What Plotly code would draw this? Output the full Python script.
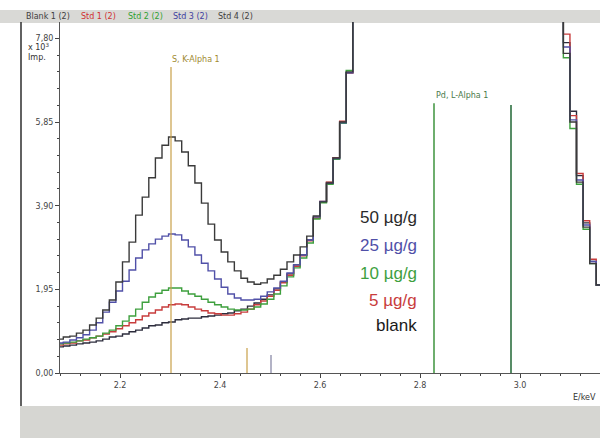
import plotly.graph_objects as go

# Channel left-edge energies (keV) for the visible spectrum parts
energy_left = [2.0734, 2.0866, 2.0997, 2.1129, 2.1260, 2.1392, 2.1524, 2.1655, 2.1787, 2.1918,
               2.2050, 2.2182, 2.2313, 2.2445, 2.2576, 2.2708, 2.2840, 2.2971, 2.3103, 2.3234,
               2.3366, 2.3498, 2.3629, 2.3761, 2.3892, 2.4024, 2.4156, 2.4287, 2.4419, 2.4550,
               2.4682, 2.4814, 2.4945, 2.5077, 2.5208, 2.5340, 2.5472, 2.5603, 2.5735, 2.5866,
               2.5998, 2.6130, 2.6261, 2.6393, 2.6524, 2.6656]
energy_right = [3.0867, 3.0999, 3.1130, 3.1262, 3.1394, 3.1525, 3.1657]

# Counts (x10^3 Imp.) per channel, left part (last value is off-scale)
blank_left = [0.61, 0.63, 0.65, 0.68, 0.70, 0.72, 0.75, 0.79, 0.84, 0.86,
              0.91, 0.96, 1.00, 1.05, 1.10, 1.12, 1.17, 1.19, 1.24, 1.26,
              1.28, 1.28, 1.31, 1.33, 1.35, 1.38, 1.40, 1.45, 1.49, 1.56,
              1.63, 1.72, 1.82, 1.96, 2.12, 2.31, 2.52, 2.75, 3.10, 3.61,
              3.99, 4.44, 5.02, 5.86, 7.00, 12.0]
std5_left = [0.65, 0.68, 0.70, 0.75, 0.77, 0.82, 0.86, 0.91, 0.96, 1.03,
             1.10, 1.17, 1.24, 1.33, 1.40, 1.47, 1.54, 1.59, 1.61, 1.59,
             1.54, 1.49, 1.45, 1.40, 1.38, 1.35, 1.35, 1.38, 1.42, 1.49,
             1.59, 1.68, 1.79, 1.93, 2.10, 2.28, 2.49, 2.73, 3.08, 3.61,
             4.00, 4.45, 5.02, 5.87, 7.00, 12.0]
std10_left = [0.68, 0.70, 0.72, 0.75, 0.79, 0.82, 0.86, 0.93, 1.00, 1.10,
              1.21, 1.33, 1.49, 1.65, 1.77, 1.86, 1.93, 1.98, 1.98, 1.91,
              1.84, 1.79, 1.72, 1.65, 1.59, 1.54, 1.49, 1.47, 1.47, 1.49,
              1.54, 1.61, 1.72, 1.84, 2.03, 2.24, 2.45, 2.68, 3.03, 3.59,
              3.97, 4.40, 4.98, 5.82, 7.05, 12.0]
std25_left = [0.70, 0.72, 0.77, 0.82, 0.89, 1.00, 1.17, 1.42, 1.65, 1.91,
              2.14, 2.40, 2.68, 2.87, 3.01, 3.12, 3.19, 3.24, 3.22, 3.10,
              2.94, 2.75, 2.56, 2.38, 2.19, 2.00, 1.84, 1.75, 1.70, 1.70,
              1.72, 1.79, 1.89, 1.98, 2.14, 2.33, 2.52, 2.75, 3.10, 3.64,
              4.00, 4.42, 5.00, 5.83, 7.00, 12.0]
std50_left = [0.79, 0.84, 0.86, 0.93, 1.00, 1.12, 1.28, 1.47, 1.70, 2.12,
              2.59, 3.05, 3.68, 4.10, 4.55, 5.01, 5.31, 5.50, 5.41, 5.15,
              4.83, 4.43, 3.96, 3.47, 3.10, 2.82, 2.59, 2.38, 2.21, 2.12,
              2.07, 2.10, 2.19, 2.28, 2.42, 2.59, 2.75, 2.94, 3.19, 3.66,
              3.99, 4.43, 5.01, 5.85, 7.02, 12.0]

# Right part (curves come in from above the top of the plot)
blank_right = [7.70, 6.10, 4.60, 3.50, 2.60, 2.05, 2.05]
std5_right = [7.90, 6.00, 4.65, 3.55, 2.65, 2.05, 2.05]
std10_right = [7.35, 5.70, 4.40, 3.35, 2.55, 2.05, 2.05]
std25_right = [7.60, 5.90, 4.50, 3.45, 2.60, 2.05, 2.05]
std50_right = [7.45, 5.85, 4.45, 3.40, 2.55, 2.05, 2.05]

series_names = ["blank", "5 µg/g", "10 µg/g", "25 µg/g", "50 µg/g"]
series_colors = ["#2c2c3c", "#c83c3c", "#3ea03e", "#5050a8", "#3a3a3a"]
label_colors = ["#1a1a1a", "#c83c3c", "#3ea03e", "#5050a8", "#2a2a2a"]
series_left = [blank_left, std5_left, std10_left, std25_left, std50_left]
series_right = [blank_right, std5_right, std10_right, std25_right, std50_right]

# Element marker lines (keV, height x10^3)
s_lines_e = [2.302, 2.454, 2.502]
s_lines_h = [7.13, 0.58, 0.42]
pd_lines_e = [2.828, 2.982]
pd_lines_h = [6.29, 6.25]

header_texts = ["Blank 1 (2)", "Std 1 (2)", "Std 2 (2)", "Std 3 (2)", "Std 4 (2)"]
header_colors = ["#404040", "#d03030", "#30a030", "#4040a0", "#404040"]

x_ticks = [2.2, 2.4, 2.6, 2.8, 3.0]
x_ticktext = ["2.2", "2.4", "2.6", "2.8", "3.0"]
y_ticks = [0.0, 1.95, 3.90, 5.85, 7.80]
y_ticktext = ["0,00", "1,95", "3,90", "5,85", "7,80"]

fig = go.Figure()

for name, col, yl, yr in zip(series_names, series_colors, series_left, series_right):
    fig.add_trace(go.Scatter(x=energy_left + energy_right, y=yl + yr, mode="lines",
                             line=dict(shape="hv", color=col, width=1.4),
                             name=name, showlegend=False, hoverinfo="skip"))

for e, h, c in zip(s_lines_e, s_lines_h, ["#c8a048", "#c8a048", "#8080a0"]):
    fig.add_trace(go.Scatter(x=[e, e], y=[0, h], mode="lines", line=dict(color=c, width=1.2),
                             showlegend=False, hoverinfo="skip"))
for e, h, c in zip(pd_lines_e, pd_lines_h, ["#4a9a4a", "#2e7040"]):
    fig.add_trace(go.Scatter(x=[e, e], y=[0, h], mode="lines", line=dict(color=c, width=1.6),
                             showlegend=False, hoverinfo="skip"))

W, H = 600, 438
L, T, B = 60, 22, 65
PW, PH = W - L, H - T - B


def px(x):
    return (x - L) / PW


def py(y):
    return (H - B - y) / PH


annotations = []
annotations.append(dict(x=s_lines_e[0], y=s_lines_h[0], xref="x", yref="y", text="S, K-Alpha 1",
                        showarrow=False, xanchor="left", yanchor="bottom", xshift=-1, yshift=1,
                        font=dict(size=8, color="#a08a30", family="DejaVu Sans")))
annotations.append(dict(x=pd_lines_e[0], y=pd_lines_h[0], xref="x", yref="y", text="Pd, L-Alpha 1",
                        showarrow=False, xanchor="left", yanchor="bottom", xshift=0, yshift=1,
                        font=dict(size=8, color="#4a7a4a", family="DejaVu Sans")))
label_y = [325, 300, 273, 245, 217]
for name, col, yy in zip(series_names, label_colors, label_y):
    annotations.append(dict(x=px(419), y=py(yy), xref="paper", yref="paper", text=name, showarrow=False,
                            xanchor="right", yanchor="middle",
                            font=dict(size=17, color=col, family="Liberation Sans")))
hx = [24, 79, 126, 171, 216]
for t, c, x0 in zip(header_texts, header_colors, hx):
    annotations.append(dict(x=px(x0), y=py(16.5), xref="paper", yref="paper", text=t, showarrow=False,
                            xanchor="left", yanchor="middle",
                            font=dict(size=8, color=c, family="DejaVu Sans")))
annotations.append(dict(x=px(26), y=py(47), xref="paper", yref="paper", text="x 10<sup>3</sup>",
                        showarrow=False, xanchor="left", yanchor="middle",
                        font=dict(size=8, color="#333", family="DejaVu Sans")))
annotations.append(dict(x=px(26), y=py(58), xref="paper", yref="paper", text="Imp.",
                        showarrow=False, xanchor="left", yanchor="middle",
                        font=dict(size=8, color="#333", family="DejaVu Sans")))
annotations.append(dict(x=px(598), y=py(397), xref="paper", yref="paper", text="E/keV",
                        showarrow=False, xanchor="right", yanchor="middle",
                        font=dict(size=8, color="#333", family="DejaVu Sans")))

shapes = [
    dict(type="rect", xref="paper", yref="paper", x0=px(0), x1=px(600), y0=py(23), y1=py(10),
         fillcolor="#d9d9d6", line=dict(width=0), layer="below"),
    dict(type="rect", xref="paper", yref="paper", x0=px(20), x1=px(600), y0=py(438), y1=py(406),
         fillcolor="#d6d6d2", line=dict(width=0), layer="below"),
    dict(type="line", xref="paper", yref="paper", x0=px(21), x1=px(21), y0=py(406), y1=py(22),
         line=dict(color="#3a3a3a", width=1.6)),
]

fig.update_layout(
    width=W, height=H, autosize=False,
    margin=dict(l=L, r=0, t=T, b=B, pad=0),
    paper_bgcolor="white", plot_bgcolor="white",
    showlegend=False,
    annotations=annotations, shapes=shapes,
    xaxis=dict(range=[2.08, 3.16], tickmode="array", tickvals=x_ticks, ticktext=x_ticktext,
               ticks="outside", ticklen=4, tickcolor="#444", showline=True, linecolor="#555", linewidth=1,
               showgrid=False, zeroline=False, tickfont=dict(size=8, color="#444", family="DejaVu Sans"),
               minor=dict(tickmode="linear", tick0=2.2, dtick=0.04, ticks="outside", ticklen=2, tickcolor="#444")),
    yaxis=dict(range=[0, PH / 42.9], tickmode="array", tickvals=y_ticks, ticktext=y_ticktext,
               ticks="outside", ticklen=4, tickcolor="#444", showline=True, linecolor="#555", linewidth=1,
               showgrid=False, zeroline=False, tickfont=dict(size=8, color="#444", family="DejaVu Sans"),
               minor=dict(tickmode="linear", tick0=0, dtick=0.39, ticks="outside", ticklen=2, tickcolor="#444")),
)

fig.write_html("out.html", config={"displayModeBar": False},
               post_script="document.body.style.margin='0';document.body.style.overflow='hidden';")
